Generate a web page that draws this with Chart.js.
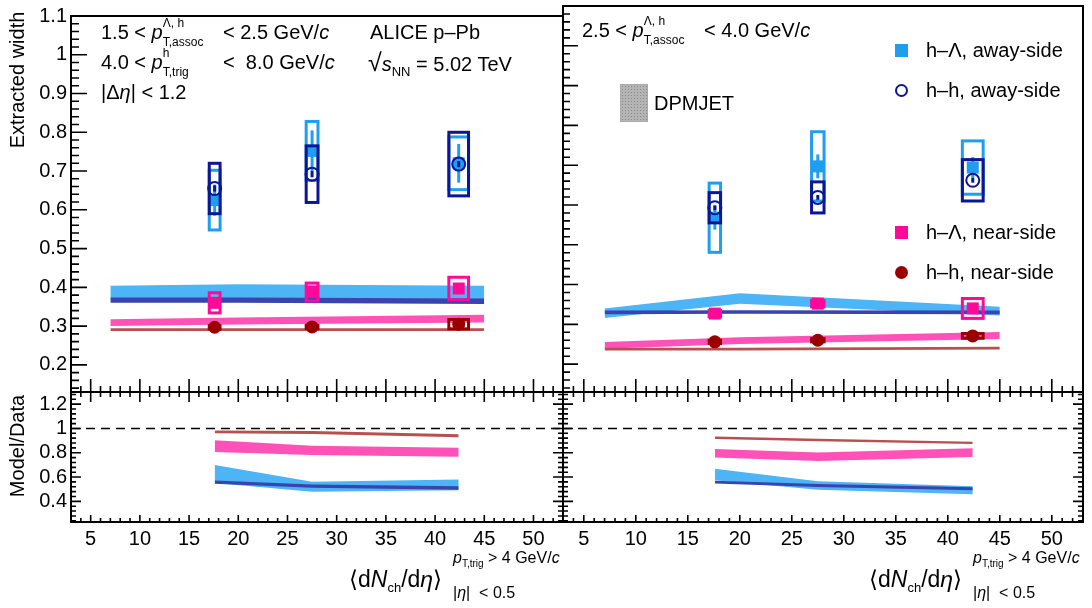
<!DOCTYPE html>
<html lang="en">
<head>
<meta charset="UTF-8">
<title>Extracted width vs multiplicity</title>
<script src="https://cdn.jsdelivr.net/npm/chart.js"></script>
<style>
  body { margin: 0; background: #fff; }
  #wrap { position: relative; width: 1092px; height: 608px; overflow: hidden; font-family: "Liberation Sans", Arial, sans-serif; }
  canvas { position: absolute; left: 0; top: 0; }
  .t { position: absolute; font-size: 20px; line-height: 40px; color: #000; white-space: nowrap; z-index: 5; }
  .ss { display: inline-flex; flex-direction: column; vertical-align: 12px; font-size: 12px; line-height: 19px; }
  .t sub { font-size: 13px; vertical-align: -5px; line-height: 0; }
  .rot { position: absolute; font-size: 20px; white-space: nowrap; transform: translate(-50%, -50%) rotate(-90deg); z-index: 5; }
  .mk { position: absolute; z-index: 5; box-sizing: border-box; }
  i { font-style: italic; }
</style>
</head>
<body>
<div id="wrap">
  <canvas id="cBL" width="1092" height="608"></canvas>
  <canvas id="cBR" width="1092" height="608"></canvas>
  <canvas id="cTL" width="1092" height="608"></canvas>
  <canvas id="cTR" width="1092" height="608"></canvas>

  <!-- left panel labels -->
  <div class="t" style="left:101px;top:12px">1.5 &lt; <i>p</i><span class="ss"><span>&Lambda;, h</span><span>T,assoc</span></span></div>
  <div class="t" style="left:223px;top:12px">&lt; 2.5 GeV/<i>c</i></div>
  <div class="t" style="left:101px;top:42px">4.0 &lt; <i>p</i><span class="ss"><span>h</span><span>T,trig</span></span></div>
  <div class="t" style="left:223px;top:42px">&lt;&nbsp; 8.0 GeV/<i>c</i></div>
  <div class="t" style="left:101px;top:72px">|&Delta;<i>&eta;</i>| &lt; 1.2</div>
  <div class="t" style="left:370px;top:12px">ALICE p&ndash;Pb</div>
  <div class="t" style="left:368px;top:42px"><span style="font-size:25px">&radic;</span><i>s</i><sub>NN</sub> = 5.02 TeV</div>

  <!-- right panel labels -->
  <div class="t" style="left:582px;top:10px">2.5 &lt; <i>p</i><span class="ss"><span>&Lambda;, h</span><span>T,assoc</span></span></div>
  <div class="t" style="left:704px;top:10px">&lt; 4.0 GeV/<i>c</i></div>

  <div class="mk" style="left:620px;top:84px;width:28px;height:38px;background-color:#b4b4b4;background-image:radial-gradient(#8a8a8a 0.8px, transparent 0.9px);background-size:3px 3px;border:1px solid #aaa"></div>
  <div class="t" style="left:654px;top:83px">DPMJET</div>

  <div class="mk" style="left:895px;top:44px;width:13px;height:13px;background:#1f9ef0"></div>
  <div class="t" style="left:926px;top:30px">h&ndash;&Lambda;, away-side</div>
  <div class="mk" style="left:895px;top:84px;width:13px;height:13px;border:2px solid #0b1696;border-radius:50%"></div>
  <div class="t" style="left:926px;top:70px">h&ndash;h, away-side</div>
  <div class="mk" style="left:895px;top:226px;width:13px;height:13px;background:#ff0a98"></div>
  <div class="t" style="left:926px;top:212px">h&ndash;&Lambda;, near-side</div>
  <div class="mk" style="left:895px;top:266px;width:13px;height:13px;background:#9a0000;border-radius:50%"></div>
  <div class="t" style="left:926px;top:252px">h&ndash;h, near-side</div>

  <!-- axis titles -->
  <div class="rot" style="left:17px;top:80px">Extracted width</div>
  <div class="rot" style="left:17px;top:446px">Model/Data</div>

  <div class="t" style="left:349px;top:559px;font-size:23px">&lang;d<i>N</i><sub>ch</sub>/d<i>&eta;</i>&rang;</div>
  <div class="t" style="left:453px;top:538px;font-size:16px"><i>p</i><sub style="font-size:10px;vertical-align:-4px">T,trig</sub> &gt; 4 GeV/<i>c</i></div>
  <div class="t" style="left:453px;top:573px;font-size:16px">|<i>&eta;</i>|&nbsp; &lt; 0.5</div>

  <div class="t" style="left:869px;top:559px;font-size:23px">&lang;d<i>N</i><sub>ch</sub>/d<i>&eta;</i>&rang;</div>
  <div class="t" style="left:973px;top:538px;font-size:16px"><i>p</i><sub style="font-size:10px;vertical-align:-4px">T,trig</sub> &gt; 4 GeV/<i>c</i></div>
  <div class="t" style="left:973px;top:573px;font-size:16px">|<i>&eta;</i>|&nbsp; &lt; 0.5</div>
</div>

<script>
const FONT = '"Liberation Sans", Arial, sans-serif';

// axis tick labels
const xTickVals = [5, 10, 15, 20, 25, 30, 35, 40, 45, 50];
const widthTickVals = [0.2, 0.3, 0.4, 0.5, 0.6, 0.7, 0.8, 0.9, 1, 1.1];
const ratioTickVals = [0.4, 0.6, 0.8, 1, 1.2];

// multiplicity classes and model grid
const multX = [17.6, 27.5, 42.4];
const boxHalfX = [0.55, 0.6, 1.0];
const modelX = [7, 20, 45];

// 1.5 < pT,assoc < 2.5 GeV/c
const lowHLAway = [0.625, 0.752, 0.72];
const lowHLAwayStat = [0.04, 0.053, 0.05];
const lowHLAwaySys = [0.077, 0.076, 0.068];
const lowHHAway = [0.655, 0.692, 0.718];
const lowHHAwayStat = [0.008, 0.008, 0.008];
const lowHHAwaySys = [0.065, 0.073, 0.082];
const lowHLNear = [0.36, 0.388, 0.397];
const lowHLNearStat = [0.008, 0.008, 0.008];
const lowHLNearSys = [0.026, 0.023, 0.029];
const lowHHNear = [0.297, 0.298, 0.305];
const lowHHNearStat = [0.003, 0.003, 0.003];
const lowHHNearSys = [0.004, 0.004, 0.012];

const lowModHLAway = [0.386, 0.39, 0.387];
const lowModHLAwayW = [0.018, 0.018, 0.017];
const lowModHHAway = [0.367, 0.367, 0.364];
const lowModHHAwayW = [0.007, 0.007, 0.007];
const lowModHLNear = [0.309, 0.313, 0.319];
const lowModHLNearW = [0.009, 0.009, 0.01];
const lowModHHNear = [0.291, 0.291, 0.291];
const lowModHHNearW = [0.0035, 0.0035, 0.0035];

const lowRatHLAway = [0.625, 0.52, 0.535];
const lowRatHLAwayW = [0.074, 0.041, 0.044];
const lowRatHHAway = [0.558, 0.525, 0.51];
const lowRatHHAwayW = [0.014, 0.014, 0.014];
const lowRatHLNear = [0.855, 0.82, 0.805];
const lowRatHLNearW = [0.048, 0.038, 0.037];
const lowRatHHNear = [0.972, 0.966, 0.94];
const lowRatHHNearW = [0.012, 0.012, 0.012];

// 2.5 < pT,assoc < 4.0 GeV/c
const highHLAway = [0.568, 0.697, 0.694];
const highHLAwayStat = [0.03, 0.03, 0.026];
const highHLAwaySys = [0.087, 0.087, 0.067];
const highHHAway = [0.593, 0.619, 0.662];
const highHHAwayStat = [0.006, 0.006, 0.006];
const highHHAwaySys = [0.038, 0.039, 0.052];
const highHLNear = [0.327, 0.352, 0.34];
const highHLNearStat = [0.006, 0.006, 0.006];
const highHLNearSys = [0.008, 0.008, 0.025];
const highHHNear = [0.256, 0.26, 0.271];
const highHHNearStat = [0.003, 0.003, 0.003];
const highHHNearSys = [0.004, 0.004, 0.006];

const highModHLAway = [0.328, 0.365, 0.333];
const highModHLAwayW = [0.012, 0.013, 0.011];
const highModHHAway = [0.33, 0.331, 0.33];
const highModHHAwayW = [0.0045, 0.0045, 0.0045];
const highModHLNear = [0.247, 0.259, 0.272];
const highModHLNearW = [0.0085, 0.0085, 0.0085];
const highModHHNear = [0.238, 0.238, 0.24];
const highModHHNearW = [0.0035, 0.0035, 0.0035];

const highRatHLAway = [0.621, 0.53, 0.492];
const highRatHLAwayW = [0.048, 0.035, 0.033];
const highRatHHAway = [0.558, 0.53, 0.503];
const highRatHHAwayW = [0.012, 0.012, 0.012];
const highRatHLNear = [0.796, 0.768, 0.801];
const highRatHLNearW = [0.035, 0.035, 0.035];
const highRatHHNear = [0.923, 0.905, 0.881];
const highRatHHNearW = [0.01, 0.01, 0.01];

const colAzure = '#1f9ef0', colNavy = '#0b1696', colPink = '#ff0a98', colRed = '#9a0000';
const bandAzure = '#4db4f6', bandNavy = '#3c42ae', bandPink = '#ff52b8', bandRed = '#b85050';

function bandSets(xs, mid, half, color, order) {
  return [
    { data: xs.map((x, i) => ({ x, y: mid[i] + half[i] })), borderWidth: 0, pointRadius: 0, fill: false, order },
    { data: xs.map((x, i) => ({ x, y: mid[i] - half[i] })), borderWidth: 0, pointRadius: 0, fill: '-1', backgroundColor: color, order }
  ];
}

function markerSet(ys, stat, sys, color, style, open, order) {
  return {
    data: multX.map((x, i) => ({ x, y: ys[i] })),
    showLine: false,
    pointStyle: style,
    pointRadius: style === 'rect' ? 8.5 : 6.5,
    borderWidth: open ? 2 : 0,
    borderColor: color,
    backgroundColor: open ? 'rgba(0,0,0,0)' : color,
    statErr: stat, sysErr: sys, errColor: color,
    order
  };
}

const rootPlugin = {
  id: 'rootPlugin',
  beforeDatasetsDraw(chart, args, o) {
    if (o.dashedAt == null) return;
    const ctx = chart.ctx, a = chart.chartArea, y = chart.scales.y.getPixelForValue(o.dashedAt);
    ctx.save();
    ctx.strokeStyle = '#000'; ctx.lineWidth = 1.5; ctx.setLineDash([9, 6]);
    ctx.beginPath(); ctx.moveTo(a.left, y); ctx.lineTo(a.right, y); ctx.stroke();
    ctx.restore();
  },
  beforeDatasetDraw(chart, args) {
    const ds = chart.data.datasets[args.index];
    if (!ds.sysErr) return;
    const ctx = chart.ctx, xs = chart.scales.x, ys = chart.scales.y;
    ctx.save();
    ctx.strokeStyle = ds.errColor;
    ds.data.forEach((p, i) => {
      const x0 = xs.getPixelForValue(p.x - boxHalfX[i]);
      const x1 = xs.getPixelForValue(p.x + boxHalfX[i]);
      const y0 = ys.getPixelForValue(p.y + ds.sysErr[i]);
      const y1 = ys.getPixelForValue(p.y - ds.sysErr[i]);
      ctx.lineWidth = 3;
      ctx.strokeRect(x0, y0, x1 - x0, y1 - y0);
      const xc = xs.getPixelForValue(p.x);
      ctx.beginPath();
      ctx.moveTo(xc, ys.getPixelForValue(p.y + ds.statErr[i]));
      ctx.lineTo(xc, ys.getPixelForValue(p.y - ds.statErr[i]));
      ctx.stroke();
    });
    ctx.restore();
  },
  afterDraw(chart, args, o) {
    const ctx = chart.ctx, a = chart.chartArea, xs = chart.scales.x, ys = chart.scales.y;
    ctx.save();
    ctx.strokeStyle = '#000';
    ctx.lineWidth = 1.6;
    ctx.beginPath();
    for (let v = Math.ceil(xs.min); v <= xs.max; v++) {
      const px = xs.getPixelForValue(v), major = v % 5 === 0;
      if (o.bottom) { ctx.moveTo(px, a.bottom); ctx.lineTo(px, a.bottom - o.bottom[major ? 0 : 1]); }
      if (o.top) { ctx.moveTo(px, a.top); ctx.lineTo(px, a.top + o.top[major ? 0 : 1]); }
    }
    const k0 = Math.ceil(ys.min / o.yMinor - 1e-6), k1 = Math.floor(ys.max / o.yMinor + 1e-6);
    for (let k = k0; k <= k1; k++) {
      const py = ys.getPixelForValue(k * o.yMinor), major = k % 5 === 0;
      if (o.left) { ctx.moveTo(a.left, py); ctx.lineTo(a.left + o.left[major ? 0 : 1], py); }
      if (o.right) { ctx.moveTo(a.right, py); ctx.lineTo(a.right - o.right[major ? 0 : 1], py); }
    }
    ctx.stroke();
    ctx.lineWidth = 2;
    ctx.strokeRect(a.left, a.top, a.right - a.left, a.bottom - a.top);
    ctx.restore();
  }
};

function makeChart(id, padding, yMin, yMax, yTicks, showX, showY, datasets, axes) {
  return new Chart(document.getElementById(id), {
    type: 'line',
    data: { datasets },
    options: {
      responsive: false,
      animation: false,
      devicePixelRatio: 1,
      layout: { padding, autoPadding: false },
      plugins: { legend: { display: false }, tooltip: { enabled: false }, rootPlugin: axes },
      scales: {
        x: {
          type: 'linear', min: 3, max: 53, display: showX,
          grid: { display: false, drawTicks: false }, border: { display: false },
          ticks: { autoSkip: false, maxRotation: 0, padding: 5, color: '#000', font: { family: FONT, size: 20 },
                   callback: v => String(v) },
          afterBuildTicks(s) { s.ticks = xTickVals.map(v => ({ value: v })); },
          afterFit(s) { if (showX) s.height = 40; }
        },
        y: {
          type: 'linear', min: yMin, max: yMax, display: showY,
          grid: { display: false, drawTicks: false }, border: { display: false },
          ticks: { autoSkip: false, padding: 4, color: '#000', font: { family: FONT, size: 20 },
                   callback: v => String(+v.toFixed(2)) },
          afterBuildTicks(s) { s.ticks = yTicks.map(v => ({ value: v })); },
          afterFit(s) { if (showY) s.width = 60; }
        }
      }
    },
    plugins: [rootPlugin]
  });
}

function topSets(hlA, hlAs, hlAy, hhA, hhAs, hhAy, hlN, hlNs, hlNy, hhN, hhNs, hhNy, mods) {
  return [
    ...bandSets(modelX, mods[0], mods[1], bandAzure, 90),
    ...bandSets(modelX, mods[2], mods[3], bandNavy, 80),
    ...bandSets(modelX, mods[4], mods[5], bandPink, 70),
    ...bandSets(modelX, mods[6], mods[7], bandRed, 60),
    markerSet(hlA, hlAs, hlAy, colAzure, 'rect', false, 4),
    markerSet(hhA, hhAs, hhAy, colNavy, 'circle', true, 3),
    markerSet(hlN, hlNs, hlNy, colPink, 'rect', false, 2),
    markerSet(hhN, hhNs, hhNy, colRed, 'circle', false, 1)
  ];
}

function ratioSets(r) {
  return [
    ...bandSets(multX, r[0], r[1], bandAzure, 90),
    ...bandSets(multX, r[2], r[3], bandNavy, 80),
    ...bandSets(multX, r[4], r[5], bandPink, 70),
    ...bandSets(multX, r[6], r[7], bandRed, 60)
  ];
}

const topAxesL = { bottom: [13, 6], left: [16, 8], yMinor: 0.02 };
const topAxesR = { bottom: [13, 6], left: [15, 7], yMinor: 0.02 };
const ratAxes = { bottom: [7, 4], top: [10, 5], left: [10, 5], right: [10, 5], yMinor: 0.04, dashedAt: 1 };

makeChart('cBL', { left: 11, top: 392, right: 529, bottom: 46 }, 0.23, 1.3, ratioTickVals, true, true,
  ratioSets([lowRatHLAway, lowRatHLAwayW, lowRatHHAway, lowRatHHAwayW, lowRatHLNear, lowRatHLNearW, lowRatHHNear, lowRatHHNearW]), ratAxes);
makeChart('cBR', { left: 563, top: 392, right: 9, bottom: 46 }, 0.23, 1.3, ratioTickVals, true, false,
  ratioSets([highRatHLAway, highRatHLAwayW, highRatHHAway, highRatHHAwayW, highRatHLNear, highRatHLNearW, highRatHHNear, highRatHHNearW]), ratAxes);

makeChart('cTL', { left: 11, top: 6, right: 529, bottom: 216 }, 0.13, 1.1, widthTickVals, false, true,
  topSets(lowHLAway, lowHLAwayStat, lowHLAwaySys, lowHHAway, lowHHAwayStat, lowHHAwaySys,
          lowHLNear, lowHLNearStat, lowHLNearSys, lowHHNear, lowHHNearStat, lowHHNearSys,
          [lowModHLAway, lowModHLAwayW, lowModHHAway, lowModHHAwayW, lowModHLNear, lowModHLNearW, lowModHHNear, lowModHHNearW]), topAxesL);
makeChart('cTR', { left: 563, top: 6, right: 9, bottom: 216 }, 0.13, 1.1, widthTickVals, false, false,
  topSets(highHLAway, highHLAwayStat, highHLAwaySys, highHHAway, highHHAwayStat, highHHAwaySys,
          highHLNear, highHLNearStat, highHLNearSys, highHHNear, highHHNearStat, highHHNearSys,
          [highModHLAway, highModHLAwayW, highModHHAway, highModHHAwayW, highModHLNear, highModHLNearW, highModHHNear, highModHHNearW]), topAxesR);
</script>
</body>
</html>
